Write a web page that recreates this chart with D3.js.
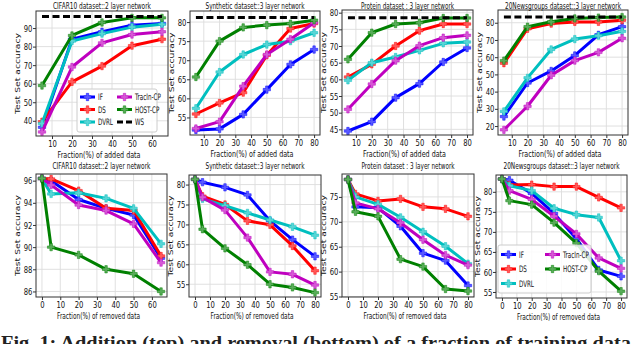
<!doctype html>
<html>
<head>
<script src="https://d3js.org/d3.v7.min.js"></script>
<style>
body { margin: 0; background: #fff; }
svg { display: block; }
</style>
</head>
<body>
<svg id="fig" width="640" height="344"></svg>
<script>
// methods and colours
var methods = ["IF", "DS", "DVRL", "TracIn-CP", "HOST-CP"]
var colors = ["#0000ff", "#ff0000", "#00bfbf", "#bf00bf", "#008000"]

var titles = ["CIFAR10 dataset::2 layer network", "Synthetic dataset::3 layer network",
              "Protein dataset : 3 layer network", "20Newsgroups dataset::3 layer network"]

// x values
var cifarAddX = [5, 20, 35, 50, 65]
var addX = [5, 20, 35, 50, 65, 80]
var cifarRemoveX = [0, 5, 20, 35, 50, 65]
var removeX = [0, 5, 20, 35, 50, 65, 80]

// rows: IF, DS, DVRL, TracIn-CP, HOST-CP
var cifarAdd = [[36.5, 84, 88, 91.5, 92.5],
                [39.5, 61, 69.5, 80.5, 84],
                [38.5, 83, 87, 90.5, 92],
                [34, 69, 82, 86.5, 88],
                [59, 86, 93, 95.5, 95.5]]
var synthAdd = [[51.7, 52, 55.8, 62.3, 68.9, 72.8],
                [55.9, 58.8, 61.5, 71.3, 78.3, 79.6],
                [57.4, 66.9, 71.5, 74.1, 75, 77.2],
                [52.1, 53.9, 63.2, 71.5, 75.5, 79.8],
                [65.6, 75, 78.6, 79.2, 79.6, 80.5]]
var proteinAdd = [[44.5, 47.3, 54.5, 58.7, 65.2, 69.4],
                  [60.7, 64.5, 70, 74.6, 76.6, 76.6],
                  [59.7, 65, 66.7, 68.7, 70.8, 71.2],
                  [51, 58.6, 65.6, 70.1, 72.5, 73.2],
                  [66, 74, 76.6, 77, 78.4, 78.4]]
var newsAdd = [[25.5, 45, 52, 61, 73, 77.7],
               [56.5, 76.5, 79.5, 80.5, 80.5, 81.5],
               [28.5, 48, 64.5, 70.5, 72.5, 75],
               [17.8, 31.5, 49.5, 58, 62.8, 71],
               [58, 77.7, 80.6, 82.5, 83, 83.3]]
var wsAdd = [96.3, 81.2, 78.5, 83.4]

var cifarRemove = [[96.2, 96, 94.3, 93.5, 92.9, 89],
                   [96.2, 96.15, 95.1, 93.5, 93.3, 89.2],
                   [96.2, 94.8, 94.9, 94.4, 93.5, 90.3],
                   [96.2, 95.6, 93.8, 93.3, 92.1, 88.6],
                   [96.2, 90, 89.3, 88, 87.6, 86]]
var synthRemove = [[81.3, 80.6, 79.3, 77.4, 70.9, 66.2, 62],
                   [81.3, 77.1, 75, 70.9, 69.9, 64.6, 58.4],
                   [81.3, 76.4, 74.7, 72.9, 71.1, 69.4, 67.3],
                   [81.3, 76.8, 73.6, 66.7, 58.1, 57.5, 54.8],
                   [81.3, 68.8, 64, 59.9, 55, 54.2, 52.9]]
var proteinRemove = [[78.5, 73, 72.8, 69.1, 63.7, 62.2, 57.2],
                     [78.5, 75.6, 74.2, 74.6, 73, 72.6, 71.1],
                     [78.5, 75, 73.5, 70.9, 68, 65.1, 61.6],
                     [78.5, 73.8, 72.6, 69.8, 66.4, 63.3, 61.3],
                     [78.5, 72, 71.1, 62.5, 61, 56.5, 56.1]]
var newsRemove = [[83.2, 82.9, 79.6, 74.6, 68.3, 60.5, 58.9],
                  [83.2, 81.7, 81.8, 81.3, 81.3, 78.6, 76],
                  [83.2, 81.5, 80.3, 75.9, 74.3, 73.6, 62.8],
                  [83.2, 80.3, 78.1, 73.9, 69.5, 63.5, 60.9],
                  [83.2, 77.8, 76.8, 72.3, 67.2, 60.2, 55.2]]

// tick values
var xTicksCifar = [10, 20, 30, 40, 50, 60]
var xTicksAdd = [10, 20, 30, 40, 50, 60, 70, 80]
var xTicksCifarRm = [0, 10, 20, 30, 40, 50, 60]
var xTicksRm = [0, 10, 20, 30, 40, 50, 60, 70, 80]

var svg = d3.select("#fig")
var FONT = "DejaVu Sans, Liberation Sans, sans-serif"
var SQ = 0.62   // horizontal squeeze of the original figure

var panels = [
  {title: titles[0], tw: 98, ty: 8.5, xs: cifarAddX, ys: cifarAdd, ws: wsAdd[0], xlab: "Fraction(%) of added data",
   box: [36, 168, 11, 136], xd: [2, 68], yd: [31.8, 99.2], xt: xTicksCifar, yt: [40, 50, 60, 70, 80, 90],
   legend: {x: 77, y: 89, w: 80, h: 43, r0: 8, dy: 12.5, c2: 37, ws: true}},
  {title: titles[1], tw: 99, ty: 8.5, xs: addX, ys: synthAdd, ws: wsAdd[1], xlab: "Fraction(%) of added data",
   box: [190, 320, 11, 135], xd: [1.25, 83.75], yd: [50.4, 82.9], xt: xTicksAdd, yt: [55, 60, 65, 70, 75, 80]},
  {title: titles[2], tw: 93, ty: 8.5, xs: addX, ys: proteinAdd, ws: wsAdd[2], xlab: "Fraction(%) of added data",
   box: [342, 473, 10, 135], xd: [1.25, 83.75], yd: [43.3, 80.8], xt: xTicksAdd, yt: [45, 50, 55, 60, 65, 70, 75, 80]},
  {title: titles[3], tw: 116, ty: 8.5, xs: addX, ys: newsAdd, ws: wsAdd[3], xlab: "Fraction(%) of added data",
   box: [498, 628, 10, 135], xd: [1.25, 83.75], yd: [14.8, 87.4], xt: xTicksAdd, yt: [20, 30, 40, 50, 60, 70, 80]},
  {title: titles[0], tw: 98, ty: 169, xs: cifarRemoveX, ys: cifarRemove, xlab: "Fraction(%) of removed data",
   box: [36, 167, 174, 297], xd: [-3.25, 68.25], yd: [85.5, 96.6], xt: xTicksCifarRm, yt: [86, 88, 90, 92, 94, 96]},
  {title: titles[1], tw: 99, ty: 169, xs: removeX, ys: synthRemove, xlab: "Fraction(%) of removed data",
   box: [189, 321, 175, 297], xd: [-4, 84], yd: [51.8, 82.4], xt: xTicksRm, yt: [55, 60, 65, 70, 75, 80]},
  {title: titles[2], tw: 93, ty: 169, xs: removeX, ys: proteinRemove, xlab: "Fraction(%) of removed data",
   box: [342, 474, 174, 297], xd: [-4, 84], yd: [54.9, 79.6], xt: xTicksRm, yt: [55, 60, 65, 70, 75]},
  {title: titles[3], tw: 116, ty: 169, xs: removeX, ys: newsRemove, xlab: "Fraction(%) of removed data",
   box: [496, 627, 175, 298], xd: [-4, 84], yd: [53.5, 84.2], xt: xTicksRm, yt: [55, 60, 65, 70, 75, 80],
   legend: {x: 498, y: 245, w: 93, h: 48, r0: 9.5, dy: 14.5, c2: 44, ws: false}}
]

function squeezed(g, x, y, str, size, anchor) {
  return g.append("text")
    .attr("transform", "translate(" + x + "," + y + ") scale(" + SQ + ",1)")
    .attr("text-anchor", anchor || "start")
    .attr("font-family", FONT).attr("font-size", size).attr("fill", "#111")
    .text(str)
}

function marker(g, x, y, c) {
  g.append("path")
    .attr("d", d3.symbol().type(d3.symbolCross).size(30)())
    .attr("transform", "translate(" + x + "," + y + ")")
    .attr("fill", d3.interpolateRgb(c, "#fff")(0.35))
    .attr("stroke", c).attr("stroke-opacity", 0.6).attr("stroke-width", 0.8)
}

panels.forEach(function(p) {
  var L = p.box[0], R = p.box[1], T = p.box[2], B = p.box[3]
  var x = d3.scaleLinear().domain(p.xd).range([L, R])
  var y = d3.scaleLinear().domain(p.yd).range([B, T])
  var g = svg.append("g")

  // grid
  g.selectAll(".gx").data(p.xt).enter().append("line")
    .attr("x1", d => x(d)).attr("x2", d => x(d)).attr("y1", T).attr("y2", B)
    .attr("stroke", "#dcdcdc").attr("stroke-width", 0.9)
  g.selectAll(".gy").data(p.yt).enter().append("line")
    .attr("y1", d => y(d)).attr("y2", d => y(d)).attr("x1", L).attr("x2", R)
    .attr("stroke", "#dcdcdc").attr("stroke-width", 0.9)

  // series
  var line = d3.line().x((d, i) => x(p.xs[i])).y(d => y(d))
  p.ys.forEach(function(vals, k) {
    g.append("path").datum(vals).attr("d", line)
      .attr("fill", "none").attr("stroke", colors[k]).attr("stroke-width", 3)
      .attr("stroke-linejoin", "round")
    vals.forEach(function(v, i) { marker(g, x(p.xs[i]), y(v), colors[k]) })
  })
  if (p.ws !== undefined) {
    g.append("line")
      .attr("x1", x(p.xs[0])).attr("x2", x(p.xs[p.xs.length - 1]))
      .attr("y1", y(p.ws)).attr("y2", y(p.ws))
      .attr("stroke", "#000").attr("stroke-width", 3).attr("stroke-dasharray", "7,3.5")
  }

  // frame
  g.append("rect").attr("x", L).attr("y", T).attr("width", R - L).attr("height", B - T)
    .attr("fill", "none").attr("stroke", "#333").attr("stroke-width", 1)

  // axes
  var ax = g.append("g").attr("transform", "translate(0," + B + ")")
    .call(d3.axisBottom(x).tickValues(p.xt).tickSize(3).tickPadding(1).tickFormat(d3.format("d")))
  var ay = g.append("g").attr("transform", "translate(" + L + ",0)")
    .call(d3.axisLeft(y).tickValues(p.yt).tickSize(3).tickPadding(2).tickFormat(d3.format("d")))
  ;[ax, ay].forEach(function(a) {
    a.select(".domain").remove()
    a.selectAll("line").attr("stroke", "#333")
    a.selectAll("text").attr("font-family", FONT).attr("font-size", 9.5).attr("fill", "#111")
      .attr("transform", "scale(0.72,1)")
  })

  // titles and labels
  var cx = (L + R) / 2
  g.append("text").attr("x", cx).attr("y", p.ty).attr("text-anchor", "middle")
    .attr("font-family", FONT).attr("font-size", 9.5).attr("fill", "#111")
    .attr("textLength", p.tw).attr("lengthAdjust", "spacingAndGlyphs").text(p.title)
  g.append("text").attr("x", cx - 3).attr("y", B + 21.5).attr("text-anchor", "middle")
    .attr("font-family", FONT).attr("font-size", 9.5).attr("fill", "#111")
    .attr("textLength", 83).attr("lengthAdjust", "spacingAndGlyphs").text(p.xlab)
  g.append("text")
    .attr("transform", "translate(" + (L - 18.5) + "," + ((T + B) / 2) + ") scale(0.78,1) rotate(-90)")
    .attr("text-anchor", "middle").attr("dy", "0.35em")
    .attr("font-family", FONT).attr("font-size", 9).attr("fill", "#111")
    .attr("textLength", 81).attr("lengthAdjust", "spacingAndGlyphs").text("Test Set accuracy")

  // legend
  if (p.legend) {
    var lg = p.legend
    var l = g.append("g")
    l.append("rect").attr("x", lg.x).attr("y", lg.y).attr("width", lg.w).attr("height", lg.h)
      .attr("rx", 2).attr("fill", "#fff").attr("fill-opacity", 0.85).attr("stroke", "#ccc")
    var items = methods.map((m, k) => ({name: m, color: colors[k], dash: false}))
    if (lg.ws) items.push({name: "WS", color: "#000", dash: true})
    items.forEach(function(it, k) {
      var col = k < 3 ? 0 : 1, row = k % 3
      var hx = lg.x + 3 + col * lg.c2, hy = lg.y + lg.r0 + row * lg.dy
      l.append("line").attr("x1", hx).attr("x2", hx + 15).attr("y1", hy).attr("y2", hy)
        .attr("stroke", it.color).attr("stroke-width", 3)
        .attr("stroke-dasharray", it.dash ? "6,3" : null)
      if (!it.dash) marker(l, hx + 7.5, hy, it.color)
      squeezed(l, hx + 18, hy + 3.2, it.name, 9)
    })
  }
})

// caption, mostly cut off by the bottom edge
svg.append("text").attr("x", 1).attr("y", 349)
  .attr("font-family", "Liberation Serif, DejaVu Serif, serif").attr("font-weight", "bold")
  .attr("font-size", 18).attr("fill", "#222")
  .attr("textLength", 660).attr("lengthAdjust", "spacingAndGlyphs")
  .text("Fig. 1: Addition (top) and removal (bottom) of a fraction of training data. W")
</script>
</body>
</html>
